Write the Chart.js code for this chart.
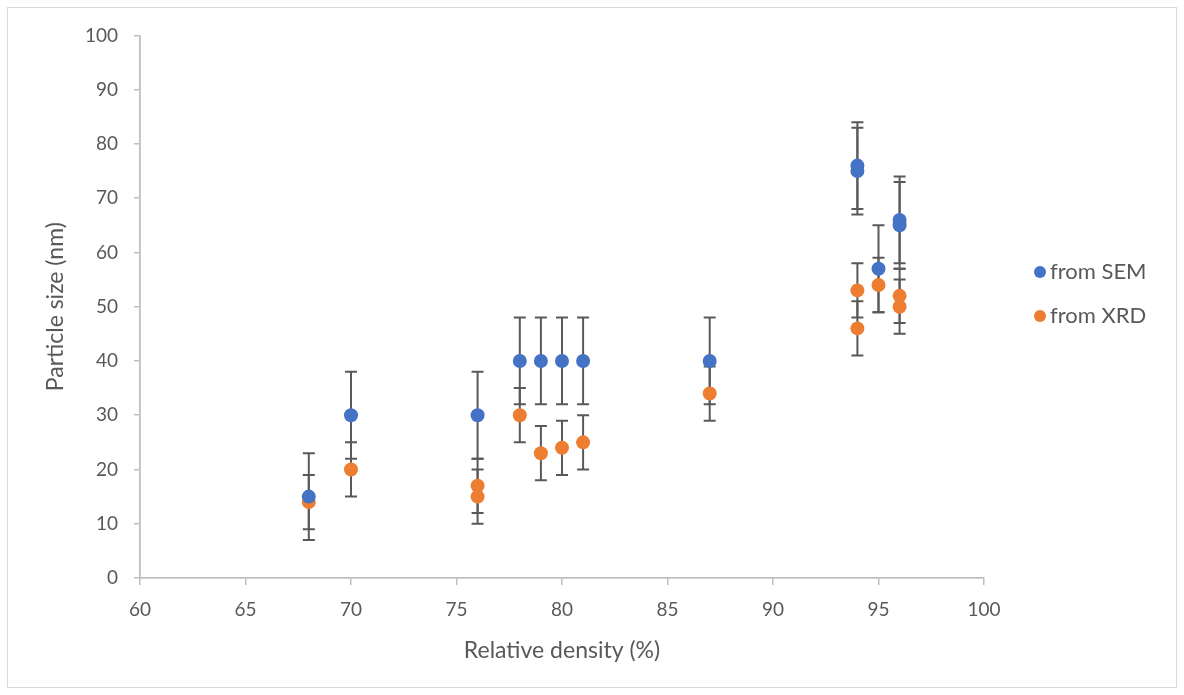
<!DOCTYPE html>
<html>
<head>
<meta charset="utf-8">
<script src="https://cdn.jsdelivr.net/npm/chart.js@4"></script>
<style>
  html, body { margin: 0; padding: 0; background: #fff; }
  #frame {
    position: absolute; left: 7px; top: 7px;
    width: 1168px; height: 679px;
    border: 1px solid #d9d9d9;
  }
  #wrap { position: absolute; left: 0; top: 0; width: 1168px; height: 679px; }
</style>
</head>
<body>
<div id="frame"><div id="wrap"><canvas id="myChart"></canvas></div></div>
<script>
// values
let semX = [68, 70, 76, 78, 79, 80, 81, 87, 94, 94, 95, 96, 96]
let semY = [15, 30, 30, 40, 40, 40, 40, 40, 76, 75, 57, 66, 65]
let semErr = [8, 8, 8, 8, 8, 8, 8, 8, 8, 8, 8, 8, 8]

let xrdX = [68, 70, 76, 76, 78, 79, 80, 81, 87, 94, 94, 95, 96, 96]
let xrdY = [14, 20, 17, 15, 30, 23, 24, 25, 34, 53, 46, 54, 52, 50]
let xrdErr = [5, 5, 5, 5, 5, 5, 5, 5, 5, 5, 5, 5, 5, 5]

let seriesNames = ['from SEM', 'from XRD']
let seriesColors = ['#4472C4', '#ED7D31']

let xTicks = [60, 65, 70, 75, 80, 85, 90, 95, 100]
let yTicks = [0, 10, 20, 30, 40, 50, 60, 70, 80, 90, 100]

let textColor = '#595959'
let axisColor = '#bfbfbf'
let fontName = 'Lato'

function toPoints(xs, ys) {
  return xs.map((x, i) => ({ x: x, y: ys[i] }))
}

// vertical error bars with caps, drawn under the markers
const errorBars = {
  id: 'errorBars',
  beforeDatasetsDraw(chart) {
    let ctx = chart.ctx
    let xs = chart.scales.x
    let ys = chart.scales.y
    ctx.save()
    ctx.strokeStyle = '#595959'
    ctx.lineWidth = 2
    chart.data.datasets.forEach((ds) => {
      ds.data.forEach((p, i) => {
        let e = ds.errors[i]
        let px = xs.getPixelForValue(p.x)
        let top = ys.getPixelForValue(p.y + e)
        let bot = ys.getPixelForValue(p.y - e)
        ctx.beginPath()
        ctx.moveTo(px, top)
        ctx.lineTo(px, bot)
        ctx.moveTo(px - 6, top)
        ctx.lineTo(px + 6, top)
        ctx.moveTo(px - 6, bot)
        ctx.lineTo(px + 6, bot)
        ctx.stroke()
      })
    })
    ctx.restore()
  }
}

// legend on the right, like the spreadsheet one
const sideLegend = {
  id: 'sideLegend',
  afterDraw(chart) {
    let ctx = chart.ctx
    ctx.save()
    ctx.font = '22px ' + fontName
    ctx.textBaseline = 'middle'
    chart.data.datasets.forEach((ds, i) => {
      let cy = 264 + i * 44
      ctx.fillStyle = ds.backgroundColor
      ctx.beginPath()
      ctx.arc(1032, cy, 6, 0, Math.PI * 2)
      ctx.fill()
      ctx.fillStyle = textColor
      ctx.fillText(ds.label, 1042, cy)
    })
    ctx.restore()
  }
}

let ctx = document.getElementById('myChart').getContext('2d')

let myChart = new Chart(ctx, {
  type: 'scatter',
  data: {
    datasets: [{
      label: seriesNames[0],
      data: toPoints(semX, semY),
      errors: semErr,
      backgroundColor: seriesColors[0],
      borderColor: seriesColors[0],
      borderWidth: 0,
      pointRadius: 7,
      pointHoverRadius: 7
    }, {
      label: seriesNames[1],
      data: toPoints(xrdX, xrdY),
      errors: xrdErr,
      backgroundColor: seriesColors[1],
      borderColor: seriesColors[1],
      borderWidth: 0,
      pointRadius: 7,
      pointHoverRadius: 7
    }]
  },
  options: {
    responsive: true,
    maintainAspectRatio: false,
    animation: false,
    layout: { padding: { top: 27, right: 192, left: 0, bottom: 0 } },
    plugins: {
      legend: { display: false },
      tooltip: { enabled: false }
    },
    scales: {
      x: {
        type: 'linear',
        min: 60,
        max: 100,
        afterBuildTicks: (s) => { s.ticks = xTicks.map(v => ({ value: v })) },
        afterFit: (s) => { s.height = 109 },
        grid: { drawOnChartArea: false, color: axisColor, tickLength: 7, lineWidth: 1.5 },
        border: { color: axisColor, width: 1.8 },
        ticks: { color: textColor, font: { family: fontName, size: 19 }, padding: 13, maxRotation: 0 },
        title: {
          display: true,
          text: 'Relative density (%)',
          color: textColor,
          font: { family: fontName, size: 23 },
          padding: { top: 0, bottom: 23 }
        }
      },
      y: {
        min: 0,
        max: 100,
        afterBuildTicks: (s) => { s.ticks = yTicks.map(v => ({ value: v })) },
        afterFit: (s) => { s.width = 132 },
        grid: { drawOnChartArea: false, color: axisColor, tickLength: 6, lineWidth: 1.5 },
        border: { color: axisColor, width: 1.8 },
        ticks: { color: textColor, font: { family: fontName, size: 19 }, padding: 16 },
        title: {
          display: true,
          text: 'Particle size (nm)',
          color: textColor,
          font: { family: fontName, size: 23 },
          padding: { top: 34, bottom: 0 }
        }
      }
    }
  },
  plugins: [errorBars, sideLegend]
})
</script>
</body>
</html>
